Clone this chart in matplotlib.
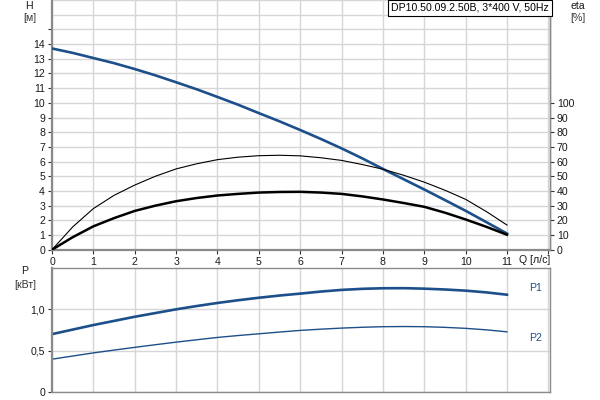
import matplotlib
matplotlib.use("Agg")
import matplotlib.pyplot as plt
import matplotlib.transforms as mtransforms

plt.rcParams['font.family'] = ['Liberation Sans', 'DejaVu Sans']

# ---- data ----
q = [0, 0.5, 1, 1.5, 2, 2.5, 3, 3.5, 4, 4.5, 5, 5.5, 6, 6.5, 7, 7.5, 8, 8.5, 9, 9.5, 10, 10.5, 11]
head = [13.7, 13.4, 13.05, 12.7, 12.3, 11.87, 11.4, 10.92, 10.4, 9.87, 9.3, 8.74, 8.15, 7.54,
        6.9, 6.22, 5.5, 4.8, 4.1, 3.38, 2.65, 1.88, 1.1]
eta_pump = [0, 15.5, 28, 37, 44, 50, 55, 58.5, 61.3, 63, 64, 64.3, 63.9, 62.6, 60.8, 58,
            54.8, 50.7, 46, 40.5, 34.3, 26, 16.8]
eta_total = [0, 8.5, 15.9, 21.5, 26.4, 30, 33, 35.2, 36.9, 38, 38.9, 39.3, 39.4, 38.9, 38,
             36.3, 34.2, 31.8, 29.2, 25.2, 20.6, 15.6, 10.2]
p1 = [0.70, 0.755, 0.81, 0.86, 0.91, 0.955, 1.0, 1.04, 1.077, 1.11, 1.14, 1.167, 1.19, 1.215,
      1.235, 1.248, 1.255, 1.256, 1.25, 1.24, 1.226, 1.205, 1.177]
p2 = [0.397, 0.435, 0.473, 0.507, 0.54, 0.572, 0.603, 0.632, 0.66, 0.683, 0.704, 0.725, 0.745,
      0.76, 0.773, 0.783, 0.79, 0.792, 0.79, 0.782, 0.77, 0.752, 0.728]

x_ticks = list(range(0, 12))
h_ticks = list(range(0, 15))
eta_ticks = list(range(0, 101, 10))
p_ticks = [0, 0.5, 1.0]
p_tick_labels = ["0", "0,5", "1,0"]
title = "DP10.50.09.2.50B, 3*400 V, 50Hz"

BLUE = '#1d4f8a'
GRID = '#d6d6d6'
SPINE = '#8a8a8a'
TXT = '#1a1a1a'
FS = 7.6

W, Hpx = 600, 400
fig = plt.figure(figsize=(6, 4), dpi=100)
fig.patch.set_facecolor('white')

left = 52 / W
width = (550 - 52) / W
ax1 = fig.add_axes([left, 1 - 249.7 / Hpx, width, 249.7 / Hpx])
ax2 = fig.add_axes([left, 1 - 392 / Hpx, width, (392 - 268) / Hpx])

xmax = 498 / 41.36

# ---- top axes ----
ax1.set_xlim(0, xmax)
ax1.set_ylim(0, 17)
ax1.set_xticks(x_ticks + [12])
ax1.set_xticklabels([str(t) for t in x_ticks] + [""])
ax1.set_yticks(h_ticks + [15])
ax1.set_yticklabels([str(t) for t in h_ticks] + [""])
ax1.set_yticks([16, 17], minor=True)
ax1.tick_params(axis='y', which='minor', length=0)
ax1.tick_params(axis='both', which='major', labelsize=FS, colors='#333333', labelcolor=TXT,
                length=3, width=0.8, direction='out', pad=2)
ax1.grid(True, which='both', color=GRID, lw=1.0)
ax1.set_axisbelow(True)
ax1.spines['top'].set_visible(False)
ax1.spines['left'].set_color(SPINE)
ax1.spines['left'].set_linewidth(1.6)
ax1.spines['bottom'].set_color(SPINE)
ax1.spines['bottom'].set_linewidth(1.6)
ax1.spines['right'].set_color(SPINE)
ax1.spines['right'].set_linewidth(1.0)

ax1.plot(q, head, color=BLUE, lw=1.9, zorder=4)

ax1e = ax1.twinx()
ax1e.patch.set_visible(False)
ax1e.set_ylim(0, 170)
ax1e.set_yticks(eta_ticks)
ax1e.tick_params(axis='y', labelsize=FS, colors='#333333', labelcolor=TXT, length=3,
                 width=0.8, pad=2)
for s in ['top', 'left', 'bottom']:
    ax1e.spines[s].set_visible(False)
ax1e.spines['right'].set_color(SPINE)
ax1e.spines['right'].set_linewidth(1.0)

ax1e.plot(q, eta_pump, color='black', lw=0.8, zorder=3)
ax1e.plot(q, eta_total, color='black', lw=1.8, zorder=3)

fig.text(549 / W, 1 - 8 / Hpx, title, ha='right', va='center',
         fontsize=FS, color='black',
         bbox=dict(boxstyle='square,pad=0.3', fc='white', ec='black', lw=0.8), zorder=10)

trans = mtransforms.blended_transform_factory(ax1.transData, fig.transFigure)
ax1.text(11.3, 1 - 260 / Hpx, "Q [л/с]", transform=trans, ha='left', va='center',
         fontsize=FS, color=TXT)

fig.text(29 / W, 1 - 6 / Hpx, "H", ha='center', va='center', fontsize=FS, color=TXT)
fig.text(30 / W, 1 - 18 / Hpx, "[м]", ha='center', va='center', fontsize=FS, color='#333333')
fig.text(578 / W, 1 - 6 / Hpx, "eta", ha='center', va='center', fontsize=FS, color=TXT)
fig.text(578 / W, 1 - 18 / Hpx, "[%]", ha='center', va='center', fontsize=FS, color='#333333')

# ---- bottom axes ----
ax2.set_xlim(0, xmax)
ax2.set_ylim(0, 1.5)
ax2.set_xticks(x_ticks + [12])
ax2.tick_params(axis='x', length=0, labelbottom=False)
ax2.set_yticks(p_ticks)
ax2.set_yticklabels(p_tick_labels)
ax2.tick_params(axis='y', labelsize=FS, colors='#333333', labelcolor=TXT, length=3,
                width=0.8, pad=2)
ax2.grid(True, color=GRID, lw=1.0)
ax2.set_axisbelow(True)
ax2.spines['left'].set_color(SPINE)
ax2.spines['left'].set_linewidth(1.6)
for s in ['top', 'bottom', 'right']:
    ax2.spines[s].set_color(SPINE)
    ax2.spines[s].set_linewidth(1.0)

ax2.plot(q, p1, color=BLUE, lw=1.9)
ax2.plot(q, p2, color=BLUE, lw=1.0)

ax2.text(11.7, p1[-1] + 0.08, "P1", ha='center', va='center', fontsize=FS, color=BLUE)
ax2.text(11.7, 0.65, "P2", ha='center', va='center', fontsize=FS, color=BLUE)

fig.text(25 / W, 1 - 271 / Hpx, "P", ha='center', va='center', fontsize=FS, color=TXT)
fig.text(25 / W, 1 - 285 / Hpx, "[кВт]", ha='center', va='center', fontsize=FS, color='#333333')

fig.savefig("out.png", dpi=100, facecolor='white')
